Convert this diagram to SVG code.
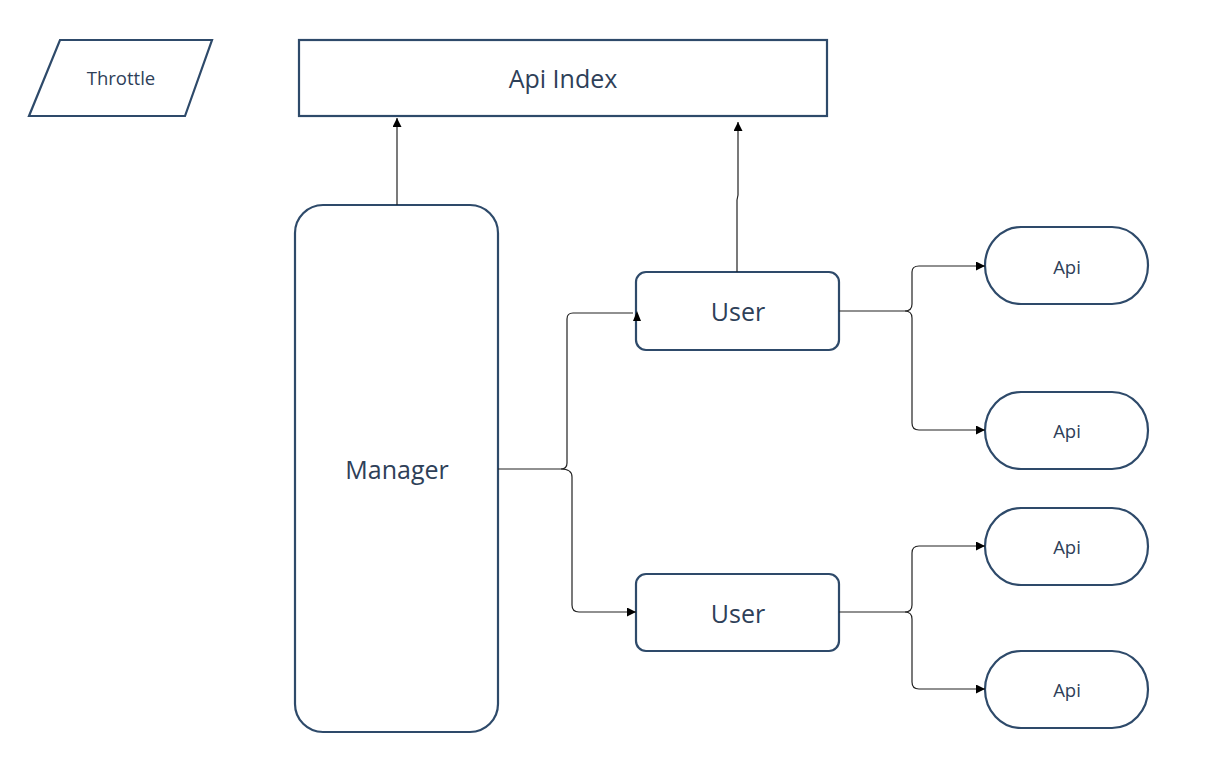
<svg xmlns="http://www.w3.org/2000/svg" width="1213" height="772" viewBox="0 0 1213 772">
<defs>
<style>
.shape{fill:#fff;stroke:#2e4a6a;stroke-width:2.2}
.t{font-family:"Open Sans","Noto Sans",sans-serif;fill:#2e4058;text-anchor:middle;dominant-baseline:central}
.big{font-size:25px}
.small{font-size:18.5px}
.c{fill:none;stroke:#222;stroke-width:1.2}
</style>
<marker id="ah" viewBox="0 0 10 10" refX="10" refY="5" markerWidth="9" markerHeight="9" markerUnits="userSpaceOnUse" orient="auto">
<path d="M0,0 L10,5 L0,10 z" fill="#000"/>
</marker>
</defs>
<rect width="1213" height="772" fill="#fff"/>
<g id="throttle">
<polygon class="shape" points="60,40 212,40 185,116 29,116"/>
<text class="t small" x="121" y="77">Throttle</text>
</g>
<g id="api-index">
<rect class="shape" x="299" y="40" width="528" height="76"/>
<text class="t big" x="563" y="78">Api Index</text>
</g>
<g id="manager">
<rect class="shape" x="295" y="205" width="203" height="527" rx="28"/>
<text class="t big" x="397" y="469">Manager</text>
</g>
<g id="user1">
<rect class="shape" x="636" y="272" width="203" height="78" rx="10"/>
<text class="t big" x="738" y="311">User</text>
</g>
<g id="user2">
<rect class="shape" x="636" y="574" width="203" height="77" rx="10"/>
<text class="t big" x="738" y="613">User</text>
</g>
<g id="api1">
<rect class="shape" x="985" y="227" width="163" height="77" rx="36" ry="38.5"/>
<text class="t small" x="1067" y="266">Api</text>
</g>
<g id="api2">
<rect class="shape" x="985" y="392" width="163" height="77" rx="36" ry="38.5"/>
<text class="t small" x="1067" y="430">Api</text>
</g>
<g id="api3">
<rect class="shape" x="985" y="508" width="163" height="77" rx="36" ry="38.5"/>
<text class="t small" x="1067" y="546">Api</text>
</g>
<g id="api4">
<rect class="shape" x="985" y="651" width="163" height="77" rx="36" ry="38.5"/>
<text class="t small" x="1067" y="689">Api</text>
</g>
<g id="connectors">
<path class="c" d="M397,205 V118" marker-end="url(#ah)"/>
<path class="c" d="M737,272 V200 L738,195 V122" marker-end="url(#ah)"/>
<path class="c" d="M498,469 H561 Q567,469 567,463 V319 Q567,313 573,313 H633"/>
<polygon points="637,311 641,321 633,321" fill="#000"/>
<path class="c" d="M561,469 Q572,469 572,477 V605 Q572,612 579,612 H636" marker-end="url(#ah)"/>
<path class="c" d="M839,311 H905 Q912,311 912,304 V272 Q912,266 919,266 H985" marker-end="url(#ah)"/>
<path class="c" d="M905,311 Q912,311 912,318 V423 Q912,430 919,430 H985" marker-end="url(#ah)"/>
<path class="c" d="M839,612 H905 Q912,612 912,605 V553 Q912,546 919,546 H985" marker-end="url(#ah)"/>
<path class="c" d="M905,612 Q912,612 912,619 V682 Q912,689 919,689 H985" marker-end="url(#ah)"/>
</g>
</svg>
